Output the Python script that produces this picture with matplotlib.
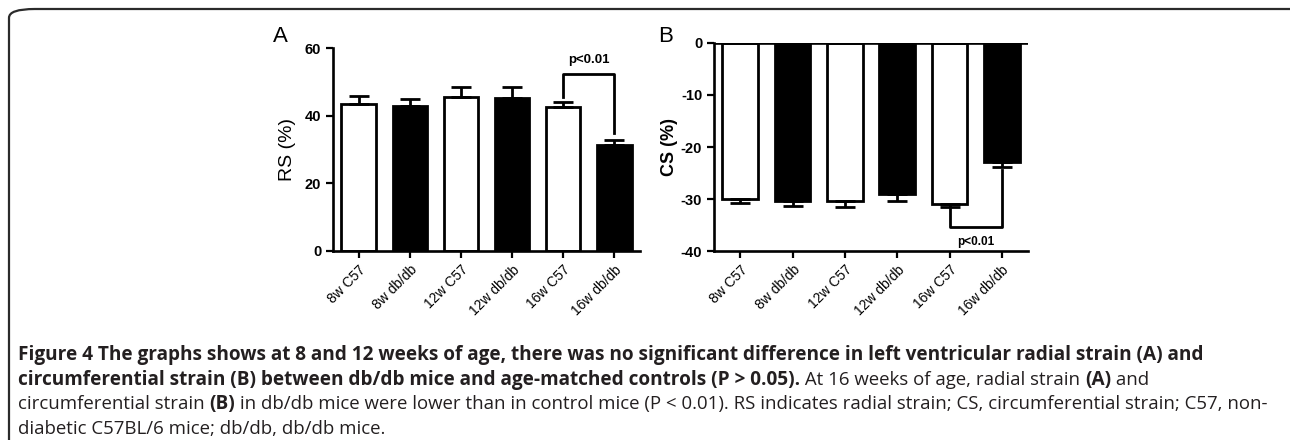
import matplotlib
matplotlib.use("Agg")
import matplotlib.pyplot as plt
from matplotlib.patches import FancyBboxPatch

groups = ["8w C57", "8w db/db", "12w C57", "12w db/db", "16w C57", "16w db/db"]
fills = ["white", "black", "white", "black", "white", "black"]

rs_mean = [43.4, 42.9, 45.5, 45.2, 42.6, 31.3]
rs_sem = [2.4, 2.0, 3.0, 3.2, 1.3, 1.5]

cs_mean = [-30.0, -30.3, -30.3, -29.0, -31.0, -22.9]
cs_sem = [0.8, 1.0, 1.3, 1.3, 0.6, 0.9]

caption = [
    [("Figure 4 The graphs shows at 8 and 12 weeks of age, there was no significant difference in left ventricular radial strain (A) and", "bold")],
    [("circumferential strain (B) between db/db mice and age-matched controls (P > 0.05).", "bold"),
     (" At 16 weeks of age, radial strain ", "normal"), ("(A)", "bold"), (" and", "normal")],
    [("circumferential strain ", "normal"), ("(B)", "bold"),
     (" in db/db mice were lower than in control mice (P < 0.01). RS indicates radial strain; CS, circumferential strain; C57, non-", "normal")],
    [("diabetic C57BL/6 mice; db/db, db/db mice.", "normal")],
]

plt.rcParams["font.family"] = ["Liberation Sans", "DejaVu Sans"]
plt.rcParams["axes.unicode_minus"] = False

W, H = 1290, 440
fig = plt.figure(figsize=(W / 100, H / 100), dpi=100)

# rounded frame around the figure
frame = FancyBboxPatch((9 / W, -0.2), 1.2, 1.2 - 9 / H,
                       boxstyle="round,pad=0,rounding_size=0.02",
                       transform=fig.transFigure, fill=False,
                       edgecolor="#2b2b2b", linewidth=1.6)
fig.patches.append(frame)

x = list(range(len(groups)))


def style_axes(ax):
    for s in ["top", "right"]:
        ax.spines[s].set_visible(False)
    for s in ["left", "bottom"]:
        ax.spines[s].set_linewidth(1.9)
    ax.tick_params(width=1.6, length=5)
    ax.set_xticks(x)
    ax.set_xticklabels(groups, rotation=45, ha="right", rotation_mode="anchor",
                       fontsize=10)
    for lab in ax.get_yticklabels():
        lab.set_fontweight("bold")
        lab.set_fontsize(10.5)
    ax.set_xlim(-0.5, 5.5)


# panel A
axA = fig.add_axes([333 / W, (H - 251) / H, 307 / W, 203 / H])
axA.bar(x, rs_mean, width=0.67, color=fills, edgecolor="black", linewidth=2.0,
        yerr=[[0] * 6, rs_sem], error_kw=dict(elinewidth=2.0, capsize=7, capthick=2.0))
axA.set_ylim(0, 60)
axA.set_yticks([0, 20, 40, 60])
style_axes(axA)
axA.set_ylabel("RS (%)", fontsize=14, labelpad=6)
axA.plot([4, 4, 5, 5], [45.5, 52.3, 52.3, 34.8], color="black", lw=2.0,
         clip_on=False)
axA.text(4.5, 54.8, "p<0.01", ha="center", va="bottom", fontsize=9.5,
         fontweight="bold")
fig.text(273 / W, 1 - 36 / H, "A", fontsize=16, va="center")

# panel B
axB = fig.add_axes([714 / W, (H - 251) / H, 314 / W, 208 / H])
axB.spines["bottom"].set_position(("data", -40))
axB.bar(x, cs_mean, width=0.68, color=fills, edgecolor="black", linewidth=2.0,
        yerr=[cs_sem, [0] * 6], error_kw=dict(elinewidth=2.0, capsize=7, capthick=2.0))
axB.set_ylim(-40, 0)
axB.set_yticks([-40, -30, -20, -10, 0])
style_axes(axB)
axB.axhline(0, color="black", lw=1.9, zorder=3)
axB.set_ylabel("CS (%)", fontsize=13, fontweight="bold", labelpad=2)
axB.plot([4, 4, 5, 5], [-32.0, -35.3, -35.3, -24.5], color="black", lw=2.0)
axB.text(4.5, -37.2, "p<0.01", ha="center", va="top", fontsize=8.5,
         fontweight="bold")
fig.text(658 / W, 1 - 36 / H, "B", fontsize=16, va="center")

# caption with mixed weights
renderer = fig.canvas.get_renderer()
cap_font = ["Open Sans", "DejaVu Sans"]
y0 = 355
for i, line in enumerate(caption):
    xp = 18
    for txt, wt in line:
        size = 13.65 if wt == "bold" else 13.4
        t = fig.text(xp / W, 1 - (y0 + i * 24.5) / H, txt, fontsize=size,
                     fontweight=wt, family=cap_font, color="#231f20",
                     va="center", ha="left")
        bb = t.get_window_extent(renderer)
        xp += bb.width

fig.savefig("out.png", dpi=100)
